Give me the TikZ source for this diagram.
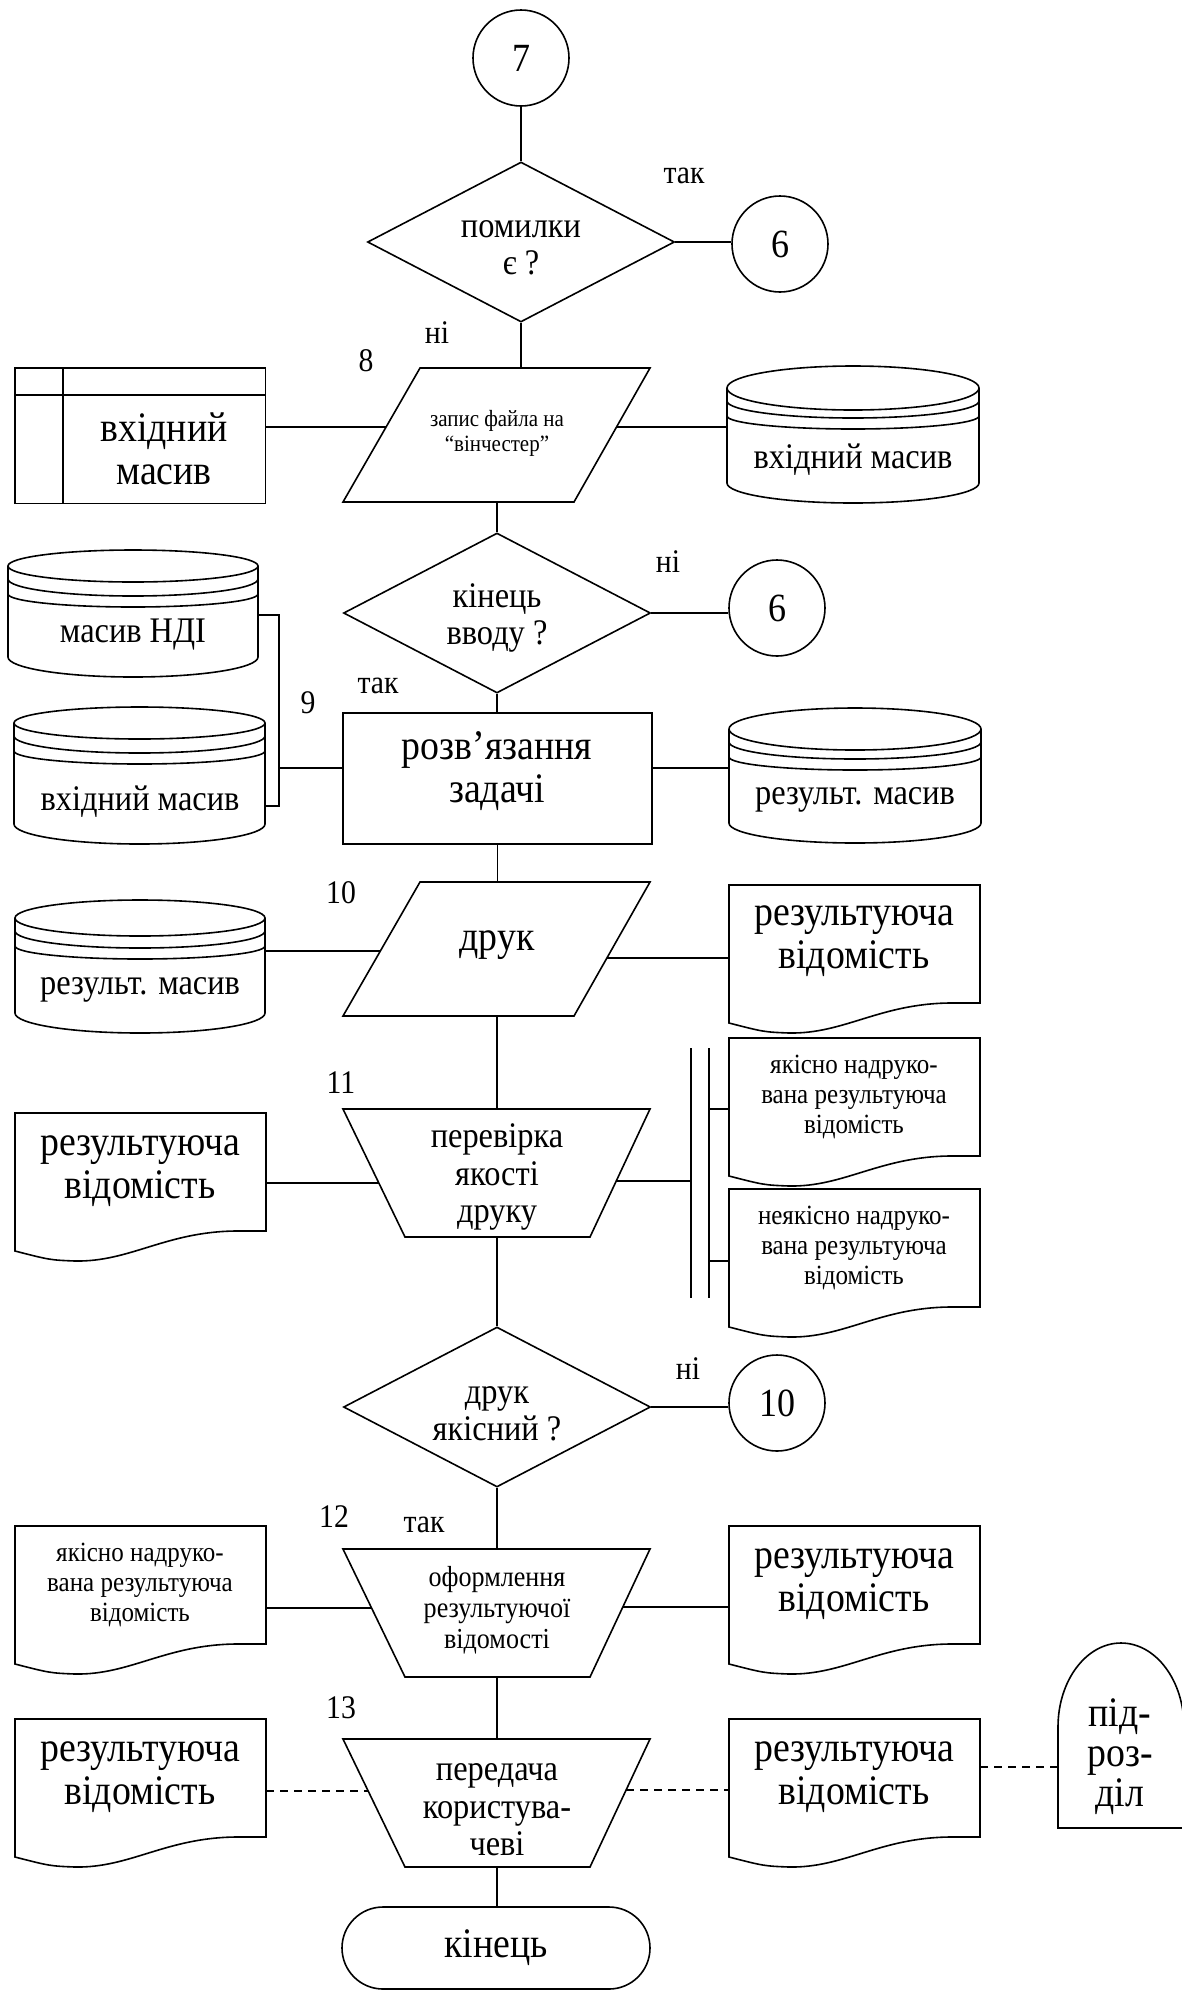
\documentclass[tikz,border=0pt]{standalone}
\usepackage{fontspec}
\setmainfont[FakeStretch=0.9]{Liberation Serif}
\usetikzlibrary{calc,shapes.geometric}
\newcommand\dbcyl[6]{%
  \pgfmathsetmacro\cylcx{(#2+#4)/2}%
  \pgfmathsetmacro\cylcy{(#3+#5)/2}%
  \pgfmathsetmacro\cylrx{(#4-#2)/2}%
  \pgfmathsetmacro\cylw{#4-#2}%
  \pgfmathsetmacro\cylh{#5-#3}%
  \node[inner sep=0pt,minimum width=\cylw pt,minimum height=\cylh pt] (#1) at (\cylcx,\cylcy) {};
  \draw[ln] (\cylcx,{#3+#6}) ellipse[x radius=\cylrx pt,y radius=#6pt];
  \draw[ln] (#2,{#3+#6}) -- (#2,{#5-20}) arc[start angle=180,end angle=360,x radius=\cylrx pt,y radius=20pt] -- (#4,{#3+#6});
  \draw[ln] (#2,{#3+#6+13}) arc[start angle=180,end angle=360,x radius=\cylrx pt,y radius=17pt];
  \draw[ln] (#2,{#3+#6+28}) arc[start angle=180,end angle=360,x radius=\cylrx pt,y radius=13pt];
}
\newcommand\docshape[3]{%
  \node[inner sep=0pt,minimum width=251pt,minimum height=148pt,anchor=north west] (#1) at (#2,#3) {};
  \draw[ln] (#2,#3) -- ({#2+251},#3) -- ({#2+251},{#3+118}) -- ({#2+220},{#3+118})
    .. controls ({#2+150},{#3+119}) and ({#2+115},{#3+149}) .. ({#2+60},{#3+148})
    .. controls ({#2+35},{#3+147}) .. (#2,{#3+138}) -- cycle;
}
\begin{document}
\begin{tikzpicture}[x=1pt,y=-1pt,
  ln/.style={line width=1.6pt},
  dsh/.style={line width=1.6pt,dash pattern=on 8pt off 6pt},
  tbig/.style={font=\fontsize{42}{43}\selectfont,align=center,inner sep=0pt},
  tmed/.style={font=\fontsize{36}{37.5}\selectfont,align=center,inner sep=0pt},
  tsml/.style={font=\fontsize{27.8}{30}\selectfont,align=center,inner sep=0pt},
  ttrap/.style={font=\fontsize{29}{31}\selectfont,align=center,inner sep=0pt},
  ttiny/.style={font=\fontsize{23.3}{25}\selectfont,align=center,inner sep=0pt},
  tlab/.style={font=\fontsize{33}{34}\selectfont,inner sep=0pt},
  circ/.style={circle,draw,line width=1.6pt,minimum size=96pt,inner sep=0pt,font=\fontsize{40}{40}\selectfont},
  dia/.style={diamond,draw,line width=1.6pt,minimum width=307pt,minimum height=160pt,inner sep=0pt,aspect=1.9}
]
\useasboundingbox (0,0) rectangle (1182,1990);

% ---- top: connector 7 and first decision
\node[circ] (c7) at (521,58) {7};
\node[dia] (d1) at (521,242) {};
\node[tmed] (d1t) at (521,248) {помилки\\є ?};
\node[circ] (c6a) at (780,244) {6};
\draw[ln] (c7) -- (d1);
\draw[ln] (d1.east) -- (c6a.west |- d1.east);
\node[tlab] (l1) at (684,176) {так};
\node[tlab] (l2) at (437,333) {ні};
\node[tlab] (l3) at (366,361) {8};

% ---- block 8
\coordinate (p8a) at (420,368);
\coordinate (p8b) at (650,368);
\coordinate (p8c) at (574,502);
\coordinate (p8d) at (343,502);
\draw[ln] (p8a) -- (p8b) -- (p8c) -- (p8d) -- cycle;
\node[ttiny] (p8t) at (497,433) {запис файла на\\“вінчестер”};
\draw[ln] (d1.south) -- (d1.south |- p8a);
\coordinate (p8l) at ($(p8a)!0.44!(p8d)$);
\coordinate (p8r) at ($(p8b)!0.44!(p8c)$);

\node[inner sep=0pt,minimum width=250pt,minimum height=135pt,anchor=north west] (card) at (15,368) {};
\draw[ln] (card.north west) rectangle (card.south east);
\draw[ln] (63,368) -- (63,503);
\draw[ln] (15,395) -- (265,395);
\node[tbig] (cardt) at (164,449) {вхідний\\масив};
\draw[ln] (card.east |- p8l) -- (p8l);

\dbcyl{c8r}{727}{366}{979}{503}{22}
\node[tmed] (c8rt) at (853,460) {вхідний масив};
\draw[ln] (p8r) -- (p8r -| c8r.west);

% ---- second decision
\node[dia] (d2) at (497,613) {};
\node[tmed] (d2t) at (497,618) {кінець\\вводу ?};
\draw[ln] (d2.north |- p8c) -- (d2.north);
\node[circ] (c6b) at (777,608) {6};
\draw[ln] (d2.east) -- (c6b.west |- d2.east);
\node[tlab] (l4) at (668,562) {ні};
\node[tlab] (l5) at (378,686) {так};
\node[tlab] (l6) at (308,703) {9};

% ---- block 9
\node[draw,ln,minimum width=309pt,minimum height=131pt,inner sep=0pt] (b9) at (497.5,778.5) {};
\node[tbig] (b9t) at (497,771) {розв’язання\\задачі};
\draw[ln] (d2.south) -- (d2.south |- b9.north);

\dbcyl{c9a}{8}{550}{258}{677}{16}
\node[tmed] (c9at) at (133,635) {масив НДІ};
\dbcyl{c9b}{14}{707}{265}{844}{16}
\node[tmed] (c9bt) at (140,802) {вхідний масив};
\coordinate (bt) at (279,615);
\coordinate (bb) at (279,806);
\coordinate (brk) at (279,768);
\draw[ln] (c9a.east |- bt) -- (bt) -- (bb) -- (c9b.east |- bb);
\draw[ln] (brk) -- (b9.west |- brk);

\dbcyl{c9r}{729}{708}{981}{843}{21}
\node[tmed] (c9rt) at (855,800) {результ. масив};
\draw[ln] (b9.east |- brk) -- (c9r.west |- brk);

% ---- block 10
\coordinate (p10a) at (420,882);
\coordinate (p10b) at (650,882);
\coordinate (p10c) at (574,1016);
\coordinate (p10d) at (343,1016);
\draw[ln] (p10a) -- (p10b) -- (p10c) -- (p10d) -- cycle;
\node[tbig] (p10t) at (497,945) {друк};
\draw[ln] (b9.south) -- (b9.south |- p10a);
\node[tlab] (l7) at (341,893) {10};
\dbcyl{c10l}{15}{900}{265}{1033}{18}
\node[tmed] (c10lt) at (140,990) {результ. масив};
\coordinate (p10l) at ($(p10a)!0.515!(p10d)$);
\coordinate (p10r) at ($(p10b)!0.567!(p10c)$);
\draw[ln] (c10l.east |- p10l) -- (p10l);
\docshape{d10r}{729}{885}
\node[tbig] (d10rt) at (854,941) {результуюча\\відомість};
\draw[ln] (p10r) -- (p10r -| d10r.west);

% ---- block 11
\coordinate (t11a) at (343,1109);
\coordinate (t11b) at (650,1109);
\coordinate (t11c) at (590,1237);
\coordinate (t11d) at (405,1237);
\draw[ln] (t11a) -- (t11b) -- (t11c) -- (t11d) -- cycle;
\node[tmed] (t11t) at (497,1177) {перевірка\\якості\\друку};
\draw[ln] (p10t |- p10c) -- (p10t |- t11a);
\node[tlab] (l8) at (341,1083) {11};
\docshape{d11l}{15}{1113}
\node[tbig] (d11lt) at (140,1171) {результуюча\\відомість};
\coordinate (t11l) at ($(t11a)!0.578!(t11d)$);
\coordinate (t11r) at ($(t11b)!0.5625!(t11c)$);
\draw[ln] (d11l.east |- t11l) -- (t11l);
\coordinate (bar1a) at (691,1048);
\coordinate (bar1b) at (691,1298);
\coordinate (bar2a) at (709,1048);
\coordinate (bar2b) at (709,1298);
\draw[ln] (bar1a) -- (bar1b);
\draw[ln] (bar2a) -- (bar2b);
\draw[ln] (t11r) -- (t11r -| bar1a);
\docshape{d11a}{729}{1038}
\node[tsml] (d11at) at (854,1097) {якісно надруко-\\вана результуюча\\відомість};
\docshape{d11b}{729}{1189}
\node[tsml] (d11bt) at (854,1248) {неякісно надруко-\\вана результуюча\\відомість};
\coordinate (k1) at (709,1109);
\coordinate (k2) at (709,1261);
\draw[ln] (k1) -- (k1 -| d11a.west);
\draw[ln] (k2) -- (k2 -| d11b.west);

% ---- third decision
\node[dia] (d3) at (497,1407) {};
\node[tmed] (d3t) at (497,1414) {друк\\якісний ?};
\draw[ln] (t11t |- t11d) -- (d3.north);
\node[circ] (c10) at (777,1403) {10};
\draw[ln] (d3.east) -- (c10.west |- d3.east);
\node[tlab] (l9) at (688,1369) {ні};

% ---- block 12
\coordinate (t12a) at (343,1549);
\coordinate (t12b) at (650,1549);
\coordinate (t12c) at (590,1677);
\coordinate (t12d) at (405,1677);
\draw[ln] (t12a) -- (t12b) -- (t12c) -- (t12d) -- cycle;
\node[ttrap] (t12t) at (497,1610) {оформлення\\результуючої\\відомості};
\draw[ln] (d3.south) -- (d3.south |- t12a);
\node[tlab] (l10) at (334,1517) {12};
\node[tlab] (l11) at (424,1525) {так};
\docshape{d12l}{15}{1526}
\node[tsml] (d12lt) at (140,1585) {якісно надруко-\\вана результуюча\\відомість};
\coordinate (t12l) at ($(t12a)!0.461!(t12d)$);
\coordinate (t12r) at ($(t12b)!0.453!(t12c)$);
\draw[ln] (d12l.east |- t12l) -- (t12l);
\docshape{d12r}{729}{1526}
\node[tbig] (d12rt) at (854,1584) {результуюча\\відомість};
\draw[ln] (t12r) -- (t12r -| d12r.west);

% ---- block 13
\coordinate (t13a) at (343,1739);
\coordinate (t13b) at (650,1739);
\coordinate (t13c) at (590,1867);
\coordinate (t13d) at (405,1867);
\draw[ln] (t13a) -- (t13b) -- (t13c) -- (t13d) -- cycle;
\node[tmed] (t13t) at (497,1810) {передача\\користува-\\чеві};
\draw[ln] (t12t |- t12c) -- (t12t |- t13a);
\node[tlab] (l12) at (341,1708) {13};
\docshape{d13l}{15}{1719}
\node[tbig] (d13lt) at (140,1777) {результуюча\\відомість};
\docshape{d13r}{729}{1719}
\node[tbig] (d13rt) at (854,1777) {результуюча\\відомість};
\coordinate (t13l) at ($(t13a)!0.406!(t13d)$);
\coordinate (t13r) at ($(t13b)!0.398!(t13c)$);
\draw[dsh] (d13l.east |- t13l) -- (t13l);
\draw[dsh] (t13r) -- (t13r -| d13r.west);

\node[inner sep=0pt,minimum width=126pt,minimum height=185pt] (tomb) at (1121,1735.5) {};
\draw[ln] (1184,1727) -- (1184,1828) -- (1058,1828) -- (1058,1727) arc[start angle=180,end angle=0,x radius=63pt,y radius=84pt];
\node[font=\fontsize{42}{40}\selectfont,align=center,inner sep=0pt] (tombt) at (1120,1757) {під-\\роз-\\діл};
\coordinate (tm) at (980,1767);
\draw[dsh] (tm) -- (tm -| tomb.west);

% ---- terminal
\node[draw,ln,rounded corners=41pt,minimum width=308pt,minimum height=82pt,inner sep=0pt,tbig] (fin) at (496,1948) {кінець};
\draw[ln] (t13t |- t13c) -- (t13t |- fin.north);
\end{tikzpicture}
\end{document}
